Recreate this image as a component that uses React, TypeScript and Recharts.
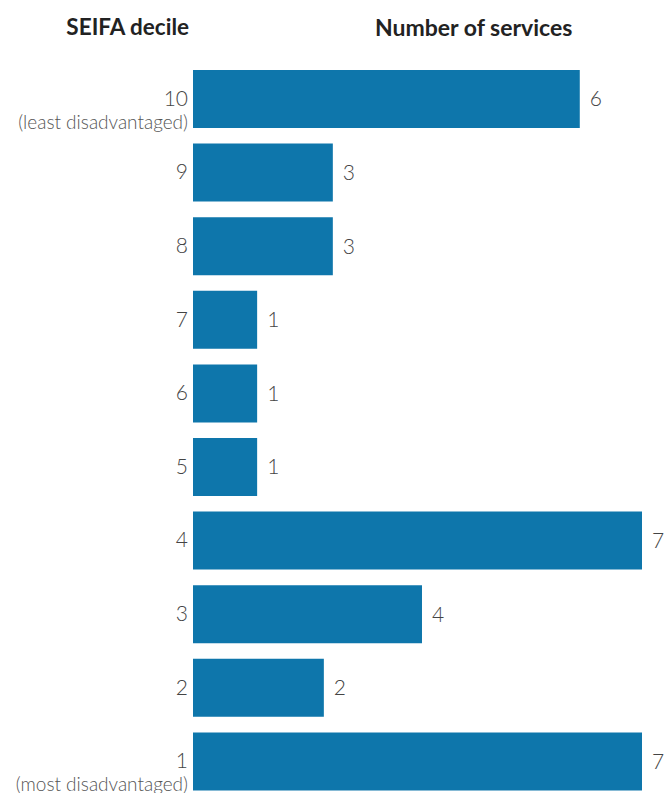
import { Bar, BarChart, LabelList, XAxis, YAxis } from "recharts";

const deciles = ["10", "9", "8", "7", "6", "5", "4", "3", "2", "1"];
// bar lengths as drawn in the picture
const barValues = [6.03, 2.18, 2.18, 1, 1, 1, 7, 3.57, 2.04, 7];
// counts printed beside the bars
const countLabels = ["6", "3", "3", "1", "1", "1", "7", "4", "2", "7"];
const subtitles: Record<string, string> = {
  "10": "(least disadvantaged)",
  "1": "(most disadvantaged)",
};

const data = deciles.map((d, i) => ({
  decile: d,
  value: barValues[i],
  label: countLabels[i],
}));

const FONT = "Lato, 'Source Sans Pro', 'Noto Sans', sans-serif";

const DecileTick = (props: any) => {
  const { x, y, payload } = props;
  const sub = subtitles[payload.value];
  return (
    <g>
      <text
        x={x}
        y={y}
        dy={7}
        textAnchor="end"
        fill="#444"
        fontSize={21}
        fontWeight={300}
        fontFamily={FONT}
      >
        {payload.value}
      </text>
      {sub && (
        <text
          x={x}
          y={y}
          dy={30}
          textAnchor="end"
          fill="#555"
          fontSize={19}
          fontWeight={300}
          fontFamily={FONT}
        >
          {sub}
        </text>
      )}
    </g>
  );
};

const headerStyle = {
  position: "absolute" as const,
  top: 13,
  fontFamily: FONT,
  fontWeight: 700,
  fontSize: 22.5,
  color: "#222",
  whiteSpace: "nowrap" as const,
};

export default function App() {
  return (
    <div style={{ position: "absolute", left: 0, top: 0, width: 666, height: 800, background: "#fff" }}>
      <div style={{ ...headerStyle, right: 666 - 189 }}>SEIFA decile</div>
      <div style={{ ...headerStyle, left: 375, fontSize: 23 }}>Number of services</div>
      <BarChart
        width={666}
        height={800}
        data={data}
        layout="vertical"
        margin={{ top: 62, right: 24, bottom: 2, left: 0 }}
      >
        <XAxis type="number" domain={[0, 7]} hide />
        <YAxis
          type="category"
          dataKey="decile"
          width={193}
          axisLine={false}
          tickLine={false}
          tickSize={0}
          tickMargin={5}
          interval={0}
          tick={<DecileTick />}
        />
        <Bar dataKey="value" fill="#0e76ab" barSize={58} isAnimationActive={false}>
          <LabelList
            dataKey="label"
            position="right"
            offset={10}
            fill="#444"
            fontSize={21}
            fontWeight={300}
            fontFamily={FONT}
          />
        </Bar>
      </BarChart>
    </div>
  );
}
